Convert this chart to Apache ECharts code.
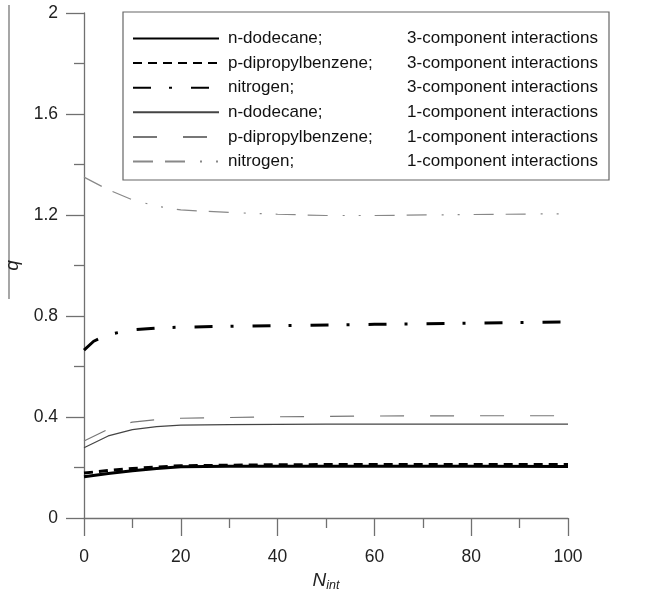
<!DOCTYPE html>
<html>
<head>
<meta charset="utf-8">
<script src="https://cdn.jsdelivr.net/npm/echarts@6/dist/echarts.min.js"></script>
<style>html,body{margin:0;padding:0;background:#fff}#c{width:654px;height:597px}</style>
</head>
<body>
<div id="c"></div>
<script>
// Data (N_int, q)
const dodecane3 = [[0,0.163],[5,0.176],[10,0.187],[15,0.196],[20,0.203],[30,0.205],[40,0.205],[60,0.205],[80,0.205],[100,0.204]];
const dipropyl3 = [[0,0.178],[5,0.188],[10,0.196],[15,0.202],[20,0.207],[30,0.209],[40,0.211],[60,0.212],[80,0.212],[100,0.212]];
const nitrogen3 = [[0,0.665],[2,0.70],[5,0.727],[10,0.745],[15,0.752],[20,0.756],[40,0.762],[60,0.767],[80,0.772],[100,0.777]];
const dodecane1 = [[0,0.278],[5,0.325],[10,0.350],[15,0.362],[20,0.368],[30,0.370],[50,0.372],[75,0.372],[100,0.372]];
const dipropyl1 = [[0,0.305],[5,0.352],[10,0.380],[15,0.390],[20,0.395],[40,0.401],[60,0.404],[80,0.405],[100,0.405]];
const nitrogen1 = [[0,1.35],[5,1.30],[10,1.26],[15,1.235],[20,1.22],[30,1.21],[40,1.203],[50,1.198],[60,1.198],[80,1.202],[100,1.205]];
const seriesNames = [
  'n-dodecane;|3-component interactions',
  'p-dipropylbenzene;|3-component interactions',
  'nitrogen;|3-component interactions',
  'n-dodecane;|1-component interactions',
  'p-dipropylbenzene;|1-component interactions',
  'nitrogen;|1-component interactions'
];
const xTicks = [0, 20, 40, 60, 80, 100];
const yTicks = [0, 0.4, 0.8, 1.2, 1.6, 2];

const font = 'Liberation Sans, Arial, sans-serif';
const chart = echarts.init(document.getElementById('c'));
const styles = [
  {color:'#000', width:3, type:'solid'},
  {color:'#000', width:3, type:[9,6]},
  {color:'#000', width:3, type:[18,18,3,19]},
  {color:'#444', width:1.2, type:'solid'},
  {color:'#777', width:1.2, type:[24,26]},
  {color:'#888', width:1.2, type:[20,12,20,15,2,14,2,14]}
];
const datas = [dodecane3, dipropyl3, nitrogen3, dodecane1, dipropyl1, nitrogen1];
const series = datas.map((d,i)=>({
  name: seriesNames[i], type:'line', data:d, symbol:'none', smooth:false,
  lineStyle: styles[i], itemStyle:{color:styles[i].color}, z: 3, silent:true
}));
const axisColor = '#707070';
chart.setOption({
  animation:false,
  grid:{left:84, right:86, top:13, bottom:79, containLabel:false, outerBoundsMode:'none'},
  xAxis:{
    type:'value', min:0, max:100, interval:20,
    axisLine:{show:true, onZero:false, lineStyle:{color:axisColor, width:1.3}},
    axisTick:{show:true, inside:false, length:18, lineStyle:{color:axisColor, width:1.3}},
    minorTick:{show:true, splitNumber:2, length:10, lineStyle:{color:axisColor, width:1.3}},
    splitLine:{show:false},
    axisLabel:{margin:30, color:'#222', fontSize:17.5, fontFamily:font,
      formatter:v=> xTicks.includes(v) ? String(v) : ''},
    name:'{n|N}{s|int}', nameLocation:'middle', nameGap:47,
    nameTextStyle:{rich:{
      n:{fontSize:19, fontStyle:'italic', fontFamily:font, color:'#222'},
      s:{fontSize:12.5, fontStyle:'italic', fontFamily:font, color:'#222', verticalAlign:'bottom', padding:[10,0,0,0]}
    }}
  },
  yAxis:{
    type:'value', min:0, max:2, interval:0.4,
    axisLine:{show:true, onZero:false, lineStyle:{color:axisColor, width:1.3}},
    axisTick:{show:true, inside:false, length:18, lineStyle:{color:axisColor, width:1.3}},
    minorTick:{show:true, splitNumber:2, length:10, lineStyle:{color:axisColor, width:1.3}},
    splitLine:{show:false},
    axisLabel:{margin:26, color:'#222', fontSize:17.5, fontFamily:font,
      formatter:v=>{ const t = yTicks.find(y=>Math.abs(y-v)<1e-9); return t===undefined?'':String(t); }},
    name:'q', nameLocation:'middle', nameGap:62, nameRotate:90,
    nameTextStyle:{fontSize:19, fontStyle:'italic', fontFamily:font, color:'#222'}
  },
  legend:{
    orient:'vertical', left:123, top:12,
    padding:[18,11,10,9],
    borderColor:'#666', borderWidth:1.2, backgroundColor:'#fff',
    itemWidth:86, itemHeight:16, itemGap:7.6,
    itemStyle:{color:'rgba(0,0,0,0)', borderWidth:0, opacity:0},
    selectedMode:false,
    data: seriesNames,
    textStyle:{fontFamily:font, fontSize:17, color:'#111',
      rich:{
        a:{width:175, fontSize:17, fontFamily:font, color:'#111', lineHeight:16, padding:[0,0,0,4]},
        b:{width:195, align:'right', fontSize:17, fontFamily:font, color:'#111', lineHeight:16}
      }},
    formatter: name => { const p = name.split('|'); return '{a|'+p[0]+'}{b|'+p[1]+'}'; }
  },
  graphic:[{type:'line', shape:{x1:9, y1:5, x2:9, y2:299}, style:{stroke:'#777', lineWidth:1.3}, silent:true}],
  series: series
});
</script>
</body>
</html>
